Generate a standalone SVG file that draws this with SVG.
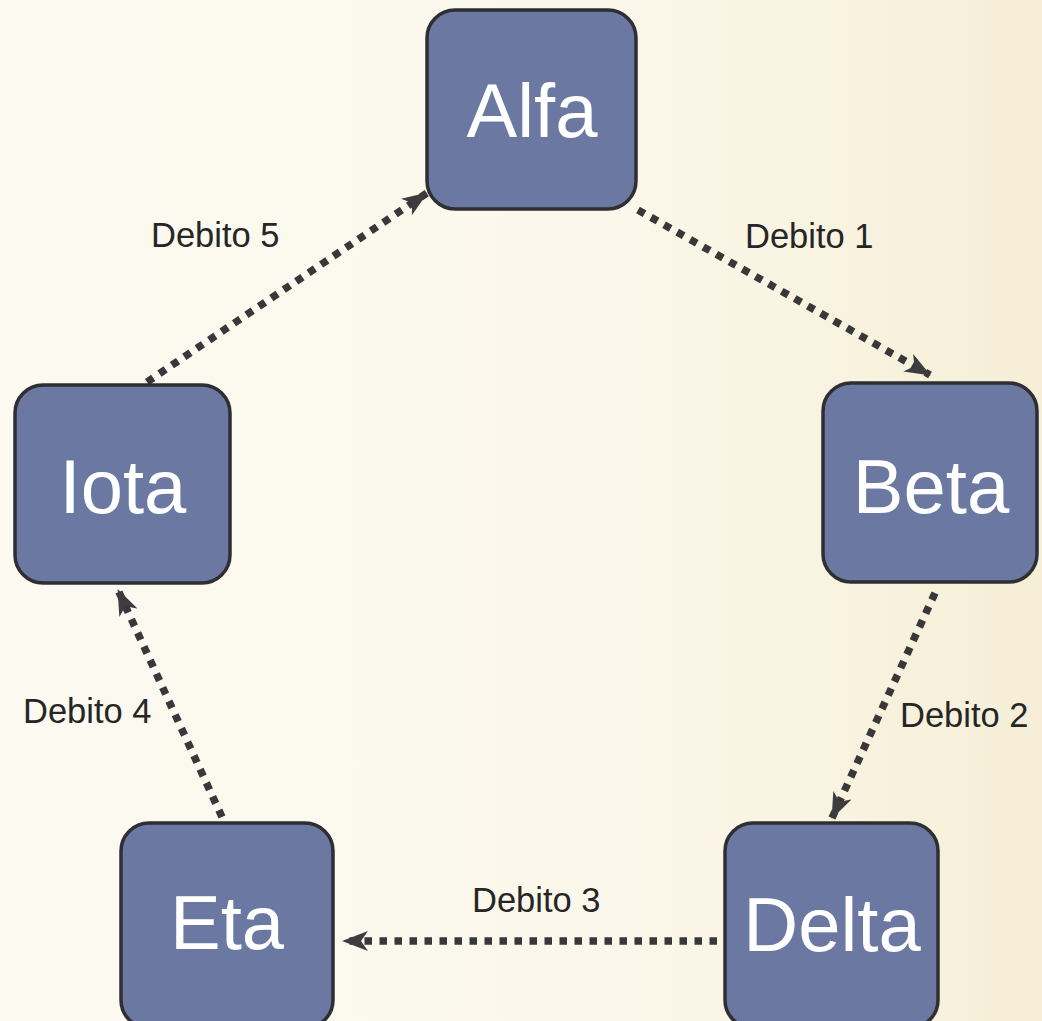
<svg xmlns="http://www.w3.org/2000/svg" width="1042" height="1021" viewBox="0 0 1042 1021">
  <defs>
    <linearGradient id="bg" x1="0" y1="0" x2="1" y2="0">
      <stop offset="0" stop-color="#fcfaf1"/>
      <stop offset="0.6" stop-color="#fbf7ea"/>
      <stop offset="1" stop-color="#f6eed6"/>
    </linearGradient>
    <marker id="arrow" viewBox="0 0 26 20" refX="25" refY="10" markerWidth="26" markerHeight="20" markerUnits="userSpaceOnUse" orient="auto">
      <path d="M0,0 L26,10 L0,20 L7,10 z" fill="#3d3d40"/>
    </marker>
    <style>
      .box { fill: #6b78a1; stroke: #2e2e33; stroke-width: 3.5; }
      .name { font-family: "Liberation Sans", Arial, sans-serif; font-size: 76px; fill: #ffffff; text-anchor: middle; }
      .lbl { font-family: "Liberation Sans", Arial, sans-serif; font-size: 34.5px; fill: #262626; }
      .conn { fill: none; stroke: #38383a; stroke-width: 7.5; stroke-dasharray: 7.5 7.5; marker-end: url(#arrow); }
    </style>
  </defs>
  <rect x="0" y="0" width="1042" height="1021" fill="url(#bg)"/>

  <g id="connectors">
    <line class="conn" x1="638" y1="210" x2="930" y2="375"/>
    <line class="conn" x1="935" y1="593" x2="832" y2="818"/>
    <line class="conn" x1="717" y1="941" x2="343" y2="941"/>
    <line class="conn" x1="222" y1="817" x2="118" y2="590"/>
    <line class="conn" x1="147" y1="382" x2="427" y2="193"/>
    <text class="lbl" x="745" y="248">Debito 1</text>
    <text class="lbl" x="900" y="727">Debito 2</text>
    <text class="lbl" x="472" y="912">Debito 3</text>
    <text class="lbl" x="23" y="723">Debito 4</text>
    <text class="lbl" x="151" y="247">Debito 5</text>
  </g>

  <g id="node-alfa">
    <rect class="box" x="427" y="10" width="209" height="199" rx="28"/>
    <text class="name" x="532" y="137">Alfa</text>
  </g>
  <g id="node-beta">
    <rect class="box" x="823" y="383" width="214" height="199" rx="28"/>
    <text class="name" x="931" y="513">Beta</text>
  </g>
  <g id="node-delta">
    <rect class="box" x="725" y="823" width="213" height="205" rx="28"/>
    <text class="name" x="832" y="951">Delta</text>
  </g>
  <g id="node-eta">
    <rect class="box" x="121" y="823" width="212" height="205" rx="28"/>
    <text class="name" x="227" y="949">Eta</text>
  </g>
  <g id="node-iota">
    <rect class="box" x="15" y="385" width="215" height="198" rx="28"/>
    <text class="name" x="123" y="513">Iota</text>
  </g>
</svg>
